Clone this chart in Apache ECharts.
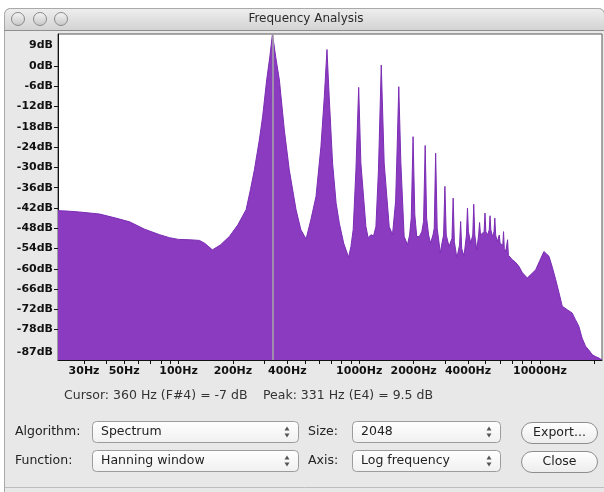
<!DOCTYPE html>
<html><head><meta charset="utf-8">
<script src="https://cdn.jsdelivr.net/npm/echarts@6/dist/echarts.min.js"></script>
<style>html,body{margin:0;padding:0;background:#fff}#c{width:604px;height:492px}</style>
</head><body><div id="c"></div>
<script>
// ---- data ----
const spectrumHz = [21.533,24,28.4,36.6,45,53.6,65,78.5,89.2,100,115,130.6,140,154,170,191.6,213,236.6,250,263,280,292,307.5,320,331,345,361.5,385,410,447,475,508,540,576.5,614,641,663,682,712,745,776,820,873,900,926,959,993,1021,1089,1120,1161,1200,1237,1278,1324,1374,1465,1528,1590,1620,1655,1700,1772,1849,1900,1940,1986,2030,2080,2150,2220,2270,2317,2360,2420,2480,2560,2600,2648,2700,2810,2880,2930,2979,3030,3140,3260,3310,3360,3470,3590,3641,3690,3800,3920,3972,4020,4140,4250,4303,4360,4470,4580,4634,4690,4800,4910,4965,5020,5130,5240,5296,5350,5460,5570,5627,5690,5800,5900,5958,6020,6130,6230,6289,6350,6460,6560,6620,6690,7030,7300,7656,8000,8510,9000,9470,10000,10520,11220,11700,12220,12800,13290,14150,15080,15700,16410,17100,17870,18600,19450,20300,21180,22050];
const spectrumDb = [-42.8,-42.9,-43.2,-43.8,-45,-46.1,-48.3,-49.9,-50.8,-51.3,-51.4,-51.6,-52.5,-54.4,-53,-50.4,-47,-42.5,-36.6,-30.7,-21.9,-15,-4.1,2.7,9.5,2.7,-4.1,-18.9,-30.7,-42.5,-48.4,-51.2,-45.5,-38.6,-23.8,-9.1,4.9,-9.1,-28.7,-40.6,-46.5,-52.4,-56.6,-53.4,-48.4,-30.7,-6.3,-28.7,-47.5,-50.8,-49.9,-50.3,-47.5,-30.7,0.3,-28.7,-47.5,-49.9,-40,-25,-6.1,-28.7,-50.4,-52.9,-50,-45,-20.9,-44,-50.4,-50.5,-49,-46,-23.5,-45,-50,-52.4,-50,-48,-25.8,-48,-55.3,-52,-50,-35.6,-50,-53.4,-51,-39.1,-52,-56.8,-53,-46,-54,-56.3,-50,-42,-49,-52.4,-50,-40.9,-50,-54.4,-50,-46.3,-50,-50.5,-49,-43.5,-49,-50,-48.5,-44.3,-48.5,-50.5,-49,-45,-50,-52,-52,-50,-52.5,-53,-53,-49,-54,-55,-55,-51.4,-56,-57.3,-58,-59.3,-61.2,-62.7,-61.5,-60.3,-57.5,-54.9,-56.3,-59.5,-63.2,-67.5,-71.1,-72.1,-73.1,-75,-77,-80.5,-82.9,-84,-85.4,-86,-86.4,-87];
const xLabelHz = [30,50,100,200,400,1000,2000,4000,10000];
const xTickHz = [30,40,50,60,70,80,90,100,200,300,400,500,600,700,800,900,1000,2000,3000,4000,5000,6000,7000,8000,9000,10000,20000];
const yLabelDb = [-87,-78,-72,-66,-60,-54,-48,-42,-36,-30,-24,-18,-12,-6,0,9];
const yTickDb = [-78,-72,-66,-60,-54,-48,-42,-36,-30,-24,-18,-12,-6,0];
const freqMin = 21.533, freqMax = 22050, dbMin = -87, dbMax = 9.5;
const cursorHz = 331;
const windowTitle = 'Frequency Analysis';
const cursorText = 'Cursor: 360 Hz (F#4) = -7 dB';
const peakText = 'Peak: 331 Hz (E4) = 9.5 dB';
const controls = [
  {label:'Algorithm:', value:'Spectrum', lx:15, bx:92, bw:206, y:421},
  {label:'Function:', value:'Hanning window', lx:15, bx:92, bw:206, y:450},
  {label:'Size:', value:'2048', lx:308, bx:352, bw:148, y:421},
  {label:'Axis:', value:'Log frequency', lx:308, bx:352, bw:148, y:450}
];
const buttons = [{text:'Export...', y:422},{text:'Close', y:451}];

const seriesData = spectrumHz.map((f,i)=>[f, spectrumDb[i]]);
const UI = '12.5px "DejaVu Sans"';

const g = [];
// window body
g.push({type:'rect', z:-10, shape:{x:4.5,y:8.5,width:600,height:484,r:[6,6,0,0]}, style:{fill:'#e8e8e8', stroke:'#a9a9a9', lineWidth:1}});
g.push({type:'rect', z:-9, shape:{x:4.5,y:8.5,width:600,height:22,r:[6,6,0,0]}, style:{fill:new echarts.graphic.LinearGradient(0,0,0,1,[{offset:0,color:'#efefef'},{offset:1,color:'#d2d2d2'}]), stroke:'#a9a9a9', lineWidth:1}});
g.push({type:'line', z:-8, shape:{x1:4,y1:30.5,x2:604,y2:30.5}, style:{stroke:'#8f8f8f', lineWidth:1}});
[18,40,61].forEach(cx=>g.push({type:'circle', z:-7, shape:{cx:cx,cy:19,r:6.5}, style:{fill:new echarts.graphic.LinearGradient(0,0,0,1,[{offset:0,color:'#f6f6f6'},{offset:1,color:'#c6c6c6'}]), stroke:'#8a8a8a', lineWidth:1}}));
g.push({type:'text', z:-7, style:{text:windowTitle, x:306, y:19, align:'center', verticalAlign:'middle', font:'12px "DejaVu Sans"', fill:'#2a2a2a'}});
// status texts
g.push({type:'text', style:{text:cursorText, x:64, y:396, verticalAlign:'middle', font:UI, fill:'#333'}});
g.push({type:'text', style:{text:peakText, x:263, y:396, verticalAlign:'middle', font:UI, fill:'#333'}});
// controls
controls.forEach(c=>{
  const cy = c.y + 11;
  g.push({type:'text', style:{text:c.label, x:c.lx, y:cy, verticalAlign:'middle', font:UI, fill:'#222'}});
  g.push({type:'rect', shape:{x:c.bx+0.5,y:c.y+0.5,width:c.bw,height:21,r:4}, style:{fill:new echarts.graphic.LinearGradient(0,0,0,1,[{offset:0,color:'#ffffff'},{offset:1,color:'#f0f0f0'}]), stroke:'#9c9c9c', lineWidth:1}});
  g.push({type:'text', style:{text:c.value, x:c.bx+9, y:cy, verticalAlign:'middle', font:UI, fill:'#222'}});
  const ax = c.bx + c.bw - 11;
  g.push({type:'polygon', shape:{points:[[ax-2.5,cy-1.5],[ax+2.5,cy-1.5],[ax,cy-5.5]]}, style:{fill:'#555'}});
  g.push({type:'polygon', shape:{points:[[ax-2.5,cy+1.5],[ax+2.5,cy+1.5],[ax,cy+5.5]]}, style:{fill:'#555'}});
});
buttons.forEach(b=>{
  g.push({type:'rect', shape:{x:521.5,y:b.y+0.5,width:76,height:21,r:10.5}, style:{fill:new echarts.graphic.LinearGradient(0,0,0,1,[{offset:0,color:'#ffffff'},{offset:1,color:'#ececec'}]), stroke:'#8e8e8e', lineWidth:1}});
  g.push({type:'text', style:{text:b.text, x:559.5, y:b.y+11, align:'center', verticalAlign:'middle', font:UI, fill:'#222'}});
});
g.push({type:'line', shape:{x1:5,y1:487.5,x2:604,y2:487.5}, style:{stroke:'#bdbdbd', lineWidth:1}});

const labelFont = {color:'#111', fontFamily:'DejaVu Sans', fontWeight:'bold', fontSize:11};
const chart = echarts.init(document.getElementById('c'), null, {renderer:'canvas'});
chart.setOption({
  backgroundColor:'#ffffff',
  animation:false,
  graphic:{elements:g},
  grid:{left:58, right:2, top:34, bottom:132, show:true, backgroundColor:'#ffffff', borderColor:'#555', borderWidth:1, containLabel:false},
  xAxis:{
    type:'log', logBase:10, min:freqMin, max:freqMax, position:'bottom',
    axisLine:{show:true, onZero:false, lineStyle:{color:'#111', width:1}},
    axisTick:{show:true, length:4, lineStyle:{color:'#111'}, customValues:xTickHz},
    minorTick:{show:false},
    splitLine:{show:false},
    axisLabel:Object.assign({customValues:xLabelHz, formatter:v=>Math.round(v)+'Hz', margin:6}, labelFont)
  },
  yAxis:{
    type:'value', min:dbMin, max:dbMax,
    axisLine:{show:true, onZero:false, lineStyle:{color:'#111', width:1}},
    axisTick:{show:true, length:4, lineStyle:{color:'#111'}, customValues:yTickDb},
    splitLine:{show:false},
    axisLabel:Object.assign({customValues:yLabelDb, margin:5,
      formatter:v=> v===dbMin ? '{mn|'+v+'dB}' : (v===9 ? '{mx|'+v+'dB}' : v+'dB'),
      verticalAlignMinLabel:'bottom', verticalAlignMaxLabel:'top',
      rich:{
        mn:Object.assign({padding:[0,0,2,0]}, labelFont),
        mx:Object.assign({padding:[4,0,0,0]}, labelFont)
      }}, labelFont)
  },
  series:[{
    type:'line', data:seriesData, showSymbol:false, symbol:'none', sampling:false,
    lineStyle:{color:'#7b2db4', width:1},
    areaStyle:{color:'#8a3bc0', opacity:1, origin:'start'},
    markLine:{silent:true, symbol:'none', label:{show:false}, lineStyle:{color:'#a9a9a9', width:1.5, type:'solid'}, data:[{xAxis:cursorHz}]}
  }]
});
</script></body></html>
